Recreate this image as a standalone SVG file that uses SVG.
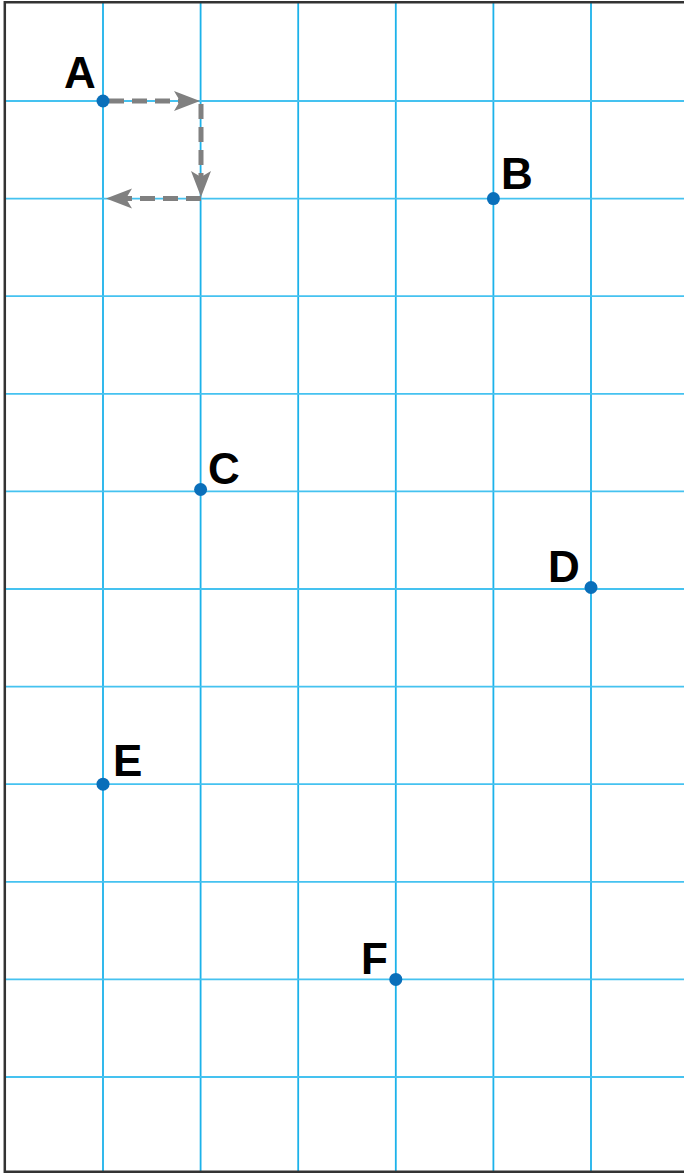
<svg xmlns="http://www.w3.org/2000/svg" width="684" height="1173" viewBox="0 0 684 1173">
<style>
.v{stroke:#1cb2ea;stroke-width:1.8}
.h{stroke:#45c2f0;stroke-width:1.8}
.dot{fill:#0a6fba}
.lbl{font-family:"Liberation Sans",Arial,sans-serif;font-weight:bold;font-size:44px;fill:#000}
.dash{fill:none;stroke:#808080;stroke-width:5;stroke-dasharray:15 8}
.frame{stroke:#333;stroke-width:2.5;fill:none}
</style>
<defs>
<marker id="ah" viewBox="-30 -12 32 24" markerWidth="32" markerHeight="24" refX="-10" refY="0" markerUnits="userSpaceOnUse" orient="auto" overflow="visible">
<path d="M0,0 L-26,-10 L-20,0 L-26,10 Z" fill="#808080"/>
</marker>
</defs>
<rect width="684" height="1173" fill="#fff"/>
<g id="grid">
<line class="v" x1="103" y1="3" x2="103" y2="1172"/>
<line class="v" x1="200.6" y1="3" x2="200.6" y2="1172"/>
<line class="v" x1="298.2" y1="3" x2="298.2" y2="1172"/>
<line class="v" x1="395.8" y1="3" x2="395.8" y2="1172"/>
<line class="v" x1="493.4" y1="3" x2="493.4" y2="1172"/>
<line class="v" x1="591" y1="3" x2="591" y2="1172"/>
<line class="h" x1="5" y1="101" x2="684" y2="101"/>
<line class="h" x1="5" y1="198.6" x2="684" y2="198.6"/>
<line class="h" x1="5" y1="296.2" x2="684" y2="296.2"/>
<line class="h" x1="5" y1="393.8" x2="684" y2="393.8"/>
<line class="h" x1="5" y1="491.4" x2="684" y2="491.4"/>
<line class="h" x1="5" y1="589" x2="684" y2="589"/>
<line class="h" x1="5" y1="686.6" x2="684" y2="686.6"/>
<line class="h" x1="5" y1="784.2" x2="684" y2="784.2"/>
<line class="h" x1="5" y1="881.8" x2="684" y2="881.8"/>
<line class="h" x1="5" y1="979.4" x2="684" y2="979.4"/>
<line class="h" x1="5" y1="1077" x2="684" y2="1077"/>
</g>
<g id="frame">
<path class="frame" d="M684,2.3 L4.8,2.3 L4.8,1171.8 L684,1171.8"/>
</g>
<g id="connectors">
<path class="dash" d="M109,101 L190,101" marker-end="url(#ah)"/>
<path class="dash" d="M201,104 L201,187" marker-end="url(#ah)"/>
<path class="dash" d="M201,198.6 L116,198.6" marker-end="url(#ah)"/>
</g>
<g id="A"><circle class="dot" cx="103" cy="101" r="6.5"/><text class="lbl" x="64" y="88">A</text></g>
<g id="B"><circle class="dot" cx="493.4" cy="198.6" r="6.5"/><text class="lbl" x="501" y="189">B</text></g>
<g id="C"><circle class="dot" cx="200.6" cy="489.5" r="6.5"/><text class="lbl" x="208" y="484">C</text></g>
<g id="D"><circle class="dot" cx="591" cy="587.5" r="6.5"/><text class="lbl" x="548" y="582">D</text></g>
<g id="E"><circle class="dot" cx="103" cy="784.2" r="6.5"/><text class="lbl" x="113" y="776">E</text></g>
<g id="F"><circle class="dot" cx="395.8" cy="979.4" r="6.5"/><text class="lbl" x="361" y="974">F</text></g>
</svg>
